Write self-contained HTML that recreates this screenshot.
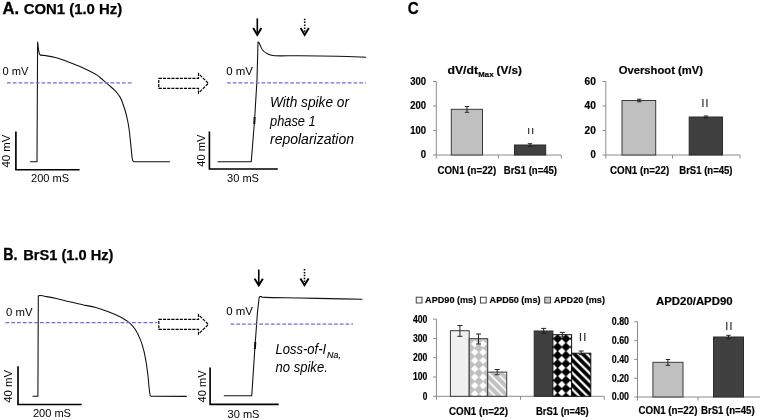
<!DOCTYPE html>
<html><head><meta charset="utf-8"><title>Figure</title>
<style>
html,body{margin:0;padding:0;background:#fff;}
body{width:760px;height:420px;overflow:hidden;}
svg{display:block;font-family:'Liberation Sans', sans-serif;}
</style></head><body>
<svg width="760" height="420" viewBox="0 0 760 420">
<rect width="760" height="420" fill="#fff"/>
<text x="2.40" y="13.60" font-size="16.20" font-weight="bold" textLength="16.60" lengthAdjust="spacingAndGlyphs" fill="#000" stroke="#000" stroke-width="0.3">A.</text>
<text x="23.70" y="13.60" font-size="14.20" font-weight="bold" textLength="98.50" lengthAdjust="spacingAndGlyphs" fill="#000" stroke="#000" stroke-width="0.25">CON1 (1.0 Hz)</text>
<path fill="none" stroke="#111" stroke-width="1.08" stroke-linejoin="round" stroke-linecap="round" d="M30.5,161.75 L37,161.75 L37.6,42 L38.6,50 L39.4,53.8 L40.3,55.1 C41.08,55.17 42.50,55.12 45.00,55.50 C47.50,55.88 51.83,56.50 55.30,57.40 C58.77,58.30 61.68,59.38 65.80,60.90 C69.92,62.42 76.13,64.87 80.00,66.50 C83.87,68.13 86.22,69.30 89.00,70.70 C91.78,72.10 94.65,73.60 96.70,74.90 C98.75,76.20 99.82,77.25 101.30,78.50 C102.78,79.75 104.07,81.07 105.60,82.40 C107.13,83.73 109.02,85.20 110.50,86.50 C111.98,87.80 113.33,89.03 114.50,90.20 C115.67,91.37 116.60,92.38 117.50,93.50 C118.40,94.62 119.22,95.77 119.90,96.90 C120.58,98.03 121.10,99.12 121.60,100.30 C122.10,101.48 122.33,102.38 122.90,104.00 C123.47,105.62 124.23,107.33 125.00,110.00 C125.77,112.67 126.80,116.67 127.50,120.00 C128.20,123.33 128.73,126.67 129.20,130.00 C129.67,133.33 129.95,136.67 130.30,140.00 C130.65,143.33 130.98,146.95 131.30,150.00 C131.62,153.05 131.95,156.50 132.20,158.30 C132.45,160.10 132.52,160.23 132.80,160.80 C133.08,161.37 133.72,161.55 133.90,161.70 L169.5,161.75"/>
<line x1="7" y1="82.9" x2="133" y2="82.9" stroke="#756bd6" stroke-width="1.3" stroke-dasharray="3.8 1.95"/>
<text x="2.40" y="74.70" font-size="11.00" textLength="26.00" lengthAdjust="spacingAndGlyphs" fill="#000">0 mV</text>
<path d="M15.9,131.6 V169.7 H79.6" fill="none" stroke="#000" stroke-width="1.65"/>
<text x="0" y="0" transform="translate(9.90,167.60) rotate(-90)" font-size="11.00" textLength="33.00" lengthAdjust="spacingAndGlyphs" fill="#000">40 mV</text>
<text x="31.00" y="182.40" font-size="11.00" textLength="38.00" lengthAdjust="spacingAndGlyphs" fill="#000">200 mS</text>
<path d="M158.8,78.30 H198.5 V73.65 L208.4,83.35 L198.5,93.05 V88.40 H158.8 Z" fill="#fff" stroke="#000" stroke-width="1.2" stroke-dasharray="3.1 1.1"/>
<path fill="none" stroke="#111" stroke-width="1.08" stroke-linejoin="round" stroke-linecap="round" d="M218,161.75 L251.25,161.75 L254.5,121 L257,80 L258,42 C258.22,42.20 258.55,41.87 259.30,43.20 C260.05,44.53 261.13,48.24 262.50,50.00 C263.87,51.76 265.42,52.79 267.50,53.75 C269.58,54.71 269.58,55.42 275.00,55.75 C280.42,56.08 289.58,55.67 300.00,55.75 C310.42,55.83 326.54,56.00 337.50,56.25 C348.46,56.50 361.04,57.08 365.75,57.25"/>
<path d="M254.6,117 L254.3,124" stroke="#111" stroke-width="2" fill="none"/>
<line x1="227" y1="82.9" x2="366" y2="82.9" stroke="#756bd6" stroke-width="1.3" stroke-dasharray="3.8 1.95"/>
<text x="226.25" y="75.00" font-size="11.00" textLength="26.75" lengthAdjust="spacingAndGlyphs" fill="#000">0 mV</text>
<path d="M209.4,131.6 V169 H277.8" fill="none" stroke="#000" stroke-width="1.65"/>
<text x="0" y="0" transform="translate(205.00,166.70) rotate(-90)" font-size="11.00" textLength="32.20" lengthAdjust="spacingAndGlyphs" fill="#000">40 mV</text>
<text x="227.00" y="182.00" font-size="11.00" textLength="32.00" lengthAdjust="spacingAndGlyphs" fill="#000">30 mS</text>
<line x1="257.30" y1="18.40" x2="257.30" y2="34.20" stroke="#000" stroke-width="1.6"/>
<path d="M253.20,28.10 L257.30,34.90 L261.40,28.10" fill="none" stroke="#000" stroke-width="1.95" stroke-linejoin="miter"/>
<line x1="304.70" y1="18.70" x2="304.70" y2="34.20" stroke="#000" stroke-width="1.6" stroke-dasharray="1.5 1.4"/>
<path d="M300.60,28.10 L304.70,34.90 L308.80,28.10" fill="none" stroke="#000" stroke-width="1.95" stroke-linejoin="miter"/>
<text x="270.00" y="107.00" font-size="13.80" font-style="italic" textLength="79.00" lengthAdjust="spacingAndGlyphs" fill="#000">With spike or</text>
<text x="270.00" y="125.75" font-size="13.80" font-style="italic" textLength="45.75" lengthAdjust="spacingAndGlyphs" fill="#000">phase 1</text>
<text x="270.00" y="143.90" font-size="13.80" font-style="italic" textLength="84.00" lengthAdjust="spacingAndGlyphs" fill="#000">repolarization</text>
<text x="3.30" y="259.80" font-size="16.00" font-weight="bold" textLength="14.20" lengthAdjust="spacingAndGlyphs" fill="#000" stroke="#000" stroke-width="0.3">B.</text>
<text x="23.20" y="259.80" font-size="13.80" font-weight="bold" textLength="90.20" lengthAdjust="spacingAndGlyphs" fill="#000" stroke="#000" stroke-width="0.25">BrS1 (1.0 Hz)</text>
<path fill="none" stroke="#111" stroke-width="1.08" stroke-linejoin="round" stroke-linecap="round" d="M32.9,396.2 L37.9,396.2 L38.3,297 C38.35,296.80 38.23,296.05 38.60,295.80 C38.97,295.55 39.52,295.43 40.50,295.50 C41.48,295.57 41.87,295.70 44.50,296.20 C47.13,296.70 52.13,297.57 56.30,298.50 C60.47,299.43 65.12,300.77 69.50,301.80 C73.88,302.83 78.22,303.73 82.60,304.70 C86.98,305.67 91.40,306.38 95.80,307.60 C100.20,308.82 105.05,310.50 109.00,312.00 C112.95,313.50 116.67,315.22 119.50,316.60 C122.33,317.98 124.33,319.27 126.00,320.30 C127.67,321.33 128.00,321.35 129.50,322.80 C131.00,324.25 133.18,326.20 135.00,329.00 C136.82,331.80 138.90,335.87 140.40,339.60 C141.90,343.33 143.05,347.65 144.00,351.40 C144.95,355.15 145.45,358.17 146.10,362.10 C146.75,366.03 147.43,371.07 147.90,375.00 C148.37,378.93 148.58,382.62 148.90,385.70 C149.22,388.78 149.57,391.85 149.80,393.50 C150.03,395.15 150.07,395.13 150.30,395.60 C150.53,396.07 151.05,396.18 151.20,396.30 L186.4,396.4"/>
<line x1="5.5" y1="322.6" x2="157" y2="322.6" stroke="#756bd6" stroke-width="1.3" stroke-dasharray="3.8 1.95"/>
<text x="6.00" y="316.00" font-size="11.00" textLength="26.50" lengthAdjust="spacingAndGlyphs" fill="#000">0 mV</text>
<path d="M18,366.2 V404.5 H81.7" fill="none" stroke="#000" stroke-width="1.65"/>
<text x="0" y="0" transform="translate(12.10,402.80) rotate(-90)" font-size="11.00" textLength="32.90" lengthAdjust="spacingAndGlyphs" fill="#000">40 mV</text>
<text x="32.90" y="417.40" font-size="11.00" textLength="38.10" lengthAdjust="spacingAndGlyphs" fill="#000">200 mS</text>
<path d="M158.8,319.35 H198.5 V314.70 L208.4,324.40 L198.5,334.10 V329.45 H158.8 Z" fill="#fff" stroke="#000" stroke-width="1.2" stroke-dasharray="3.1 1.1"/>
<path fill="none" stroke="#111" stroke-width="1.08" stroke-linejoin="round" stroke-linecap="round" d="M224.25,395.75 L251.75,395.75 L255,346 L257.5,312 L259,298.5 C259.10,298.20 259.18,297.02 259.60,296.70 C260.02,296.38 260.60,296.48 261.50,296.60 C262.40,296.72 258.58,297.17 265.00,297.40 C271.42,297.63 289.17,297.80 300.00,298.00 C310.83,298.20 319.67,298.39 330.00,298.60 C340.33,298.81 356.67,299.14 362.00,299.25"/>
<path d="M255.3,342 L254.9,349" stroke="#111" stroke-width="2" fill="none"/>
<line x1="230.5" y1="324.2" x2="353" y2="324.2" stroke="#756bd6" stroke-width="1.3" stroke-dasharray="3.8 1.95"/>
<text x="226.25" y="315.00" font-size="11.00" textLength="26.75" lengthAdjust="spacingAndGlyphs" fill="#000">0 mV</text>
<path d="M210.1,367.4 V404.3 H278.6" fill="none" stroke="#000" stroke-width="1.65"/>
<text x="0" y="0" transform="translate(205.90,402.40) rotate(-90)" font-size="11.00" textLength="32.00" lengthAdjust="spacingAndGlyphs" fill="#000">40 mV</text>
<text x="227.50" y="418.00" font-size="11.00" textLength="32.00" lengthAdjust="spacingAndGlyphs" fill="#000">30 mS</text>
<line x1="258.75" y1="269.50" x2="258.75" y2="284.75" stroke="#000" stroke-width="1.6"/>
<path d="M254.65,278.65 L258.75,285.45 L262.85,278.65" fill="none" stroke="#000" stroke-width="1.95" stroke-linejoin="miter"/>
<line x1="304.50" y1="269.00" x2="304.50" y2="284.50" stroke="#000" stroke-width="1.6" stroke-dasharray="1.5 1.4"/>
<path d="M300.40,278.40 L304.50,285.20 L308.60,278.40" fill="none" stroke="#000" stroke-width="1.95" stroke-linejoin="miter"/>
<text x="275.50" y="353.80" font-size="13.80" font-style="italic" textLength="50.70" lengthAdjust="spacingAndGlyphs" fill="#000">Loss-of-I</text>
<text x="327.10" y="357.60" font-size="8.80" font-style="italic" textLength="13.80" lengthAdjust="spacingAndGlyphs" fill="#000" stroke="#000" stroke-width="0.15">Na,</text>
<text x="275.50" y="371.80" font-size="13.80" font-style="italic" textLength="52.30" lengthAdjust="spacingAndGlyphs" fill="#000">no spike.</text>
<text x="407.70" y="13.60" font-size="17.00" font-weight="bold" textLength="10.90" lengthAdjust="spacingAndGlyphs" fill="#000" stroke="#000" stroke-width="0.3">C</text>
<path d="M436.30,81.50 V155.00 H561.30" fill="none" stroke="#8c8c8c" stroke-width="1"/>
<line x1="433.00" y1="81.50" x2="436.30" y2="81.50" stroke="#8c8c8c" stroke-width="1"/>
<line x1="433.00" y1="106.00" x2="436.30" y2="106.00" stroke="#8c8c8c" stroke-width="1"/>
<line x1="433.00" y1="130.50" x2="436.30" y2="130.50" stroke="#8c8c8c" stroke-width="1"/>
<line x1="433.00" y1="155.00" x2="436.30" y2="155.00" stroke="#8c8c8c" stroke-width="1"/>
<line x1="436.30" y1="155.00" x2="436.30" y2="158.50" stroke="#8c8c8c" stroke-width="1"/>
<line x1="498.30" y1="155.00" x2="498.30" y2="158.50" stroke="#8c8c8c" stroke-width="1"/>
<line x1="561.30" y1="155.00" x2="561.30" y2="158.50" stroke="#8c8c8c" stroke-width="1"/>
<rect x="451.30" y="109.30" width="31.20" height="45.70" fill="#c0c0c0" stroke="#3a3a3a" stroke-width="1"/>
<path d="M467.00,106.50 V112.30 M464.80,106.50 H469.20 M464.80,112.30 H469.20" fill="none" stroke="#222" stroke-width="1"/>
<rect x="514.50" y="145.00" width="31.20" height="10.00" fill="#404040" stroke="#2a2a2a" stroke-width="1"/>
<path d="M530.00,143.70 V146.50 M527.80,143.70 H532.20 M527.80,146.50 H532.20" fill="none" stroke="#222" stroke-width="1"/>
<text x="528.60 532.50" y="133.60" font-size="9.88" text-anchor="middle" fill="#2a2a2a" stroke="#2a2a2a" stroke-width="0.2">II</text>
<text x="426.00" y="84.80" font-size="10.00" font-weight="bold" textLength="15.80" lengthAdjust="spacingAndGlyphs" text-anchor="end" fill="#000" stroke="#000" stroke-width="0.18">300</text>
<text x="426.00" y="109.30" font-size="10.00" font-weight="bold" textLength="15.80" lengthAdjust="spacingAndGlyphs" text-anchor="end" fill="#000" stroke="#000" stroke-width="0.18">200</text>
<text x="426.00" y="133.80" font-size="10.00" font-weight="bold" textLength="15.80" lengthAdjust="spacingAndGlyphs" text-anchor="end" fill="#000" stroke="#000" stroke-width="0.18">100</text>
<text x="426.00" y="158.30" font-size="10.00" font-weight="bold" textLength="5.30" lengthAdjust="spacingAndGlyphs" text-anchor="end" fill="#000" stroke="#000" stroke-width="0.18">0</text>
<text x="447.50" y="74.10" font-size="11.40" font-weight="bold" textLength="30.50" lengthAdjust="spacingAndGlyphs" fill="#000" stroke="#000" stroke-width="0.18">dV/dt</text>
<text x="478.30" y="76.60" font-size="7.00" font-weight="bold" textLength="15.20" lengthAdjust="spacingAndGlyphs" fill="#000" stroke="#000" stroke-width="0.18">Max</text>
<text x="496.50" y="74.10" font-size="11.40" font-weight="bold" textLength="25.50" lengthAdjust="spacingAndGlyphs" fill="#000" stroke="#000" stroke-width="0.18">(V/s)</text>
<text x="437.50" y="173.75" font-size="10.80" font-weight="bold" textLength="58.75" lengthAdjust="spacingAndGlyphs" fill="#000" stroke="#000" stroke-width="0.18">CON1 (n=22)</text>
<text x="503.75" y="173.75" font-size="10.80" font-weight="bold" textLength="53.25" lengthAdjust="spacingAndGlyphs" fill="#000" stroke="#000" stroke-width="0.18">BrS1 (n=45)</text>
<path d="M605.80,81.50 V155.00 H740.00" fill="none" stroke="#8c8c8c" stroke-width="1"/>
<line x1="602.50" y1="81.50" x2="605.80" y2="81.50" stroke="#8c8c8c" stroke-width="1"/>
<line x1="602.50" y1="106.00" x2="605.80" y2="106.00" stroke="#8c8c8c" stroke-width="1"/>
<line x1="602.50" y1="130.50" x2="605.80" y2="130.50" stroke="#8c8c8c" stroke-width="1"/>
<line x1="602.50" y1="155.00" x2="605.80" y2="155.00" stroke="#8c8c8c" stroke-width="1"/>
<line x1="605.80" y1="155.00" x2="605.80" y2="158.50" stroke="#8c8c8c" stroke-width="1"/>
<line x1="672.50" y1="155.00" x2="672.50" y2="158.50" stroke="#8c8c8c" stroke-width="1"/>
<line x1="740.00" y1="155.00" x2="740.00" y2="158.50" stroke="#8c8c8c" stroke-width="1"/>
<rect x="622.00" y="100.50" width="33.70" height="54.50" fill="#c0c0c0" stroke="#3a3a3a" stroke-width="1"/>
<path d="M639.20,99.20 V101.80 M637.00,99.20 H641.40 M637.00,101.80 H641.40" fill="none" stroke="#222" stroke-width="1"/>
<rect x="689.20" y="117.00" width="33.30" height="38.00" fill="#404040" stroke="#2a2a2a" stroke-width="1"/>
<path d="M706.00,116.00 V118.00 M703.80,116.00 H708.20 M703.80,118.00 H708.20" fill="none" stroke="#222" stroke-width="1"/>
<text x="702.90 707.00" y="106.60" font-size="10.17" text-anchor="middle" fill="#2a2a2a" stroke="#2a2a2a" stroke-width="0.2">II</text>
<text x="595.80" y="84.80" font-size="10.00" font-weight="bold" textLength="11.30" lengthAdjust="spacingAndGlyphs" text-anchor="end" fill="#000" stroke="#000" stroke-width="0.18">60</text>
<text x="595.80" y="109.30" font-size="10.00" font-weight="bold" textLength="11.30" lengthAdjust="spacingAndGlyphs" text-anchor="end" fill="#000" stroke="#000" stroke-width="0.18">40</text>
<text x="595.80" y="133.80" font-size="10.00" font-weight="bold" textLength="11.30" lengthAdjust="spacingAndGlyphs" text-anchor="end" fill="#000" stroke="#000" stroke-width="0.18">20</text>
<text x="595.80" y="158.30" font-size="10.00" font-weight="bold" textLength="5.30" lengthAdjust="spacingAndGlyphs" text-anchor="end" fill="#000" stroke="#000" stroke-width="0.18">0</text>
<text x="618.75" y="73.75" font-size="11.80" font-weight="bold" textLength="84.20" lengthAdjust="spacingAndGlyphs" fill="#000" stroke="#000" stroke-width="0.18">Overshoot (mV)</text>
<text x="610.00" y="173.75" font-size="10.80" font-weight="bold" textLength="59.25" lengthAdjust="spacingAndGlyphs" fill="#000" stroke="#000" stroke-width="0.18">CON1 (n=22)</text>
<text x="679.25" y="173.75" font-size="10.80" font-weight="bold" textLength="53.25" lengthAdjust="spacingAndGlyphs" fill="#000" stroke="#000" stroke-width="0.18">BrS1 (n=45)</text>
<defs><pattern id="dg" width="8.33" height="8.33" patternUnits="userSpaceOnUse" x="458.04" y="335.54"><rect width="8.33" height="8.33" fill="#fff"/><path d="M4.165,-0.45 L8.78,4.165 L4.165,8.78 L-0.45,4.165 Z" fill="#bfbfbf"/></pattern><pattern id="db" width="8.33" height="8.33" patternUnits="userSpaceOnUse" x="553.43" y="334.53"><rect width="8.33" height="8.33" fill="#fff"/><path d="M4.165,-0.45 L8.78,4.165 L4.165,8.78 L-0.45,4.165 Z" fill="#000"/></pattern><pattern id="sg" width="8.33" height="8.33" patternUnits="userSpaceOnUse" x="487.70" y="363.75"><rect width="8.33" height="8.33" fill="#c2c2c2"/><path d="M-3,-3 L11.33,11.33 M-3,5.33 L3,11.33 M5.33,-3 L11.33,3" stroke="#fff" stroke-width="1.63" fill="none"/></pattern><pattern id="sb" width="8.33" height="8.33" patternUnits="userSpaceOnUse" x="571.70" y="347.07"><rect width="8.33" height="8.33" fill="#000"/><path d="M-3,-3 L11.33,11.33 M-3,5.33 L3,11.33 M5.33,-3 L11.33,3" stroke="#fff" stroke-width="2.19" fill="none"/></pattern></defs>
<path d="M436.40,319.20 V396.30 H604.20" fill="none" stroke="#8c8c8c" stroke-width="1"/>
<line x1="433.10" y1="319.20" x2="436.40" y2="319.20" stroke="#8c8c8c" stroke-width="1"/>
<line x1="433.10" y1="338.50" x2="436.40" y2="338.50" stroke="#8c8c8c" stroke-width="1"/>
<line x1="433.10" y1="357.70" x2="436.40" y2="357.70" stroke="#8c8c8c" stroke-width="1"/>
<line x1="433.10" y1="377.00" x2="436.40" y2="377.00" stroke="#8c8c8c" stroke-width="1"/>
<line x1="433.10" y1="396.30" x2="436.40" y2="396.30" stroke="#8c8c8c" stroke-width="1"/>
<line x1="436.40" y1="396.30" x2="436.40" y2="399.80" stroke="#8c8c8c" stroke-width="1"/>
<line x1="520.50" y1="396.30" x2="520.50" y2="399.80" stroke="#8c8c8c" stroke-width="1"/>
<line x1="604.20" y1="396.30" x2="604.20" y2="399.80" stroke="#8c8c8c" stroke-width="1"/>
<rect x="450.40" y="330.70" width="18.80" height="65.60" fill="#f0f0f0" stroke="#3a3a3a" stroke-width="1"/>
<rect x="469.20" y="338.70" width="18.50" height="57.60" fill="url(#dg)" stroke="#3a3a3a" stroke-width="1"/>
<rect x="487.70" y="372.10" width="19.00" height="24.20" fill="url(#sg)" stroke="#3a3a3a" stroke-width="1"/>
<path d="M459.90,325.50 V336.30 M457.40,325.50 H462.40 M457.40,336.30 H462.40" fill="none" stroke="#222" stroke-width="1"/>
<path d="M478.50,334.00 V344.00 M476.00,334.00 H481.00 M476.00,344.00 H481.00" fill="none" stroke="#222" stroke-width="1"/>
<path d="M497.20,369.50 V374.70 M494.70,369.50 H499.70 M494.70,374.70 H499.70" fill="none" stroke="#222" stroke-width="1"/>
<rect x="534.20" y="331.00" width="18.70" height="65.30" fill="#404040" stroke="#2a2a2a" stroke-width="1"/>
<rect x="552.90" y="334.70" width="18.70" height="61.60" fill="url(#db)" stroke="#111" stroke-width="1"/>
<rect x="571.60" y="353.20" width="19.20" height="43.10" fill="url(#sb)" stroke="#111" stroke-width="1"/>
<path d="M543.70,328.40 V333.40 M541.20,328.40 H546.20 M541.20,333.40 H546.20" fill="none" stroke="#222" stroke-width="1"/>
<path d="M562.40,332.40 V337.00 M559.90,332.40 H564.90 M559.90,337.00 H564.90" fill="none" stroke="#222" stroke-width="1"/>
<path d="M581.20,351.00 V354.70 M578.70,351.00 H583.70 M578.70,354.70 H583.70" fill="none" stroke="#222" stroke-width="1"/>
<text x="580.50 584.80" y="340.70" font-size="10.76" text-anchor="middle" fill="#2a2a2a" stroke="#2a2a2a" stroke-width="0.2">II</text>
<text x="427.40" y="322.50" font-size="10.00" font-weight="bold" textLength="14.40" lengthAdjust="spacingAndGlyphs" text-anchor="end" fill="#000" stroke="#000" stroke-width="0.18">400</text>
<text x="427.40" y="341.80" font-size="10.00" font-weight="bold" textLength="14.40" lengthAdjust="spacingAndGlyphs" text-anchor="end" fill="#000" stroke="#000" stroke-width="0.18">300</text>
<text x="427.40" y="361.00" font-size="10.00" font-weight="bold" textLength="14.40" lengthAdjust="spacingAndGlyphs" text-anchor="end" fill="#000" stroke="#000" stroke-width="0.18">200</text>
<text x="427.40" y="380.30" font-size="10.00" font-weight="bold" textLength="14.40" lengthAdjust="spacingAndGlyphs" text-anchor="end" fill="#000" stroke="#000" stroke-width="0.18">100</text>
<text x="427.40" y="399.60" font-size="10.00" font-weight="bold" textLength="4.60" lengthAdjust="spacingAndGlyphs" text-anchor="end" fill="#000" stroke="#000" stroke-width="0.18">0</text>
<text x="449.00" y="414.90" font-size="10.80" font-weight="bold" textLength="59.00" lengthAdjust="spacingAndGlyphs" fill="#000" stroke="#000" stroke-width="0.18">CON1 (n=22)</text>
<text x="536.00" y="414.90" font-size="10.80" font-weight="bold" textLength="52.70" lengthAdjust="spacingAndGlyphs" fill="#000" stroke="#000" stroke-width="0.18">BrS1 (n=45)</text>
<rect x="416.20" y="297.2" width="5.8" height="5.8" fill="#f4f4f4" stroke="#333" stroke-width="0.9"/>
<text x="425.10" y="302.80" font-size="9.40" font-weight="bold" textLength="51.10" lengthAdjust="spacingAndGlyphs" fill="#000" stroke="#000" stroke-width="0.18">APD90 (ms)</text>
<rect x="480.40" y="297.2" width="5.8" height="5.8" fill="#fff" stroke="#333" stroke-width="0.9"/>
<text x="489.60" y="302.80" font-size="9.40" font-weight="bold" textLength="50.90" lengthAdjust="spacingAndGlyphs" fill="#000" stroke="#000" stroke-width="0.18">APD50 (ms)</text>
<rect x="544.80" y="297.2" width="5.8" height="5.8" fill="#c8c8c8" stroke="#333" stroke-width="0.9"/>
<text x="554.00" y="302.80" font-size="9.40" font-weight="bold" textLength="50.90" lengthAdjust="spacingAndGlyphs" fill="#000" stroke="#000" stroke-width="0.18">APD20 (ms)</text>
<path d="M637.50,321.80 V397.00 H760.00" fill="none" stroke="#8c8c8c" stroke-width="1"/>
<line x1="634.20" y1="321.80" x2="637.50" y2="321.80" stroke="#8c8c8c" stroke-width="1"/>
<line x1="634.20" y1="340.60" x2="637.50" y2="340.60" stroke="#8c8c8c" stroke-width="1"/>
<line x1="634.20" y1="359.40" x2="637.50" y2="359.40" stroke="#8c8c8c" stroke-width="1"/>
<line x1="634.20" y1="378.20" x2="637.50" y2="378.20" stroke="#8c8c8c" stroke-width="1"/>
<line x1="634.20" y1="397.00" x2="637.50" y2="397.00" stroke="#8c8c8c" stroke-width="1"/>
<line x1="637.50" y1="397.00" x2="637.50" y2="400.50" stroke="#8c8c8c" stroke-width="1"/>
<line x1="698.00" y1="397.00" x2="698.00" y2="400.50" stroke="#8c8c8c" stroke-width="1"/>
<rect x="652.90" y="362.30" width="30.10" height="34.70" fill="#c0c0c0" stroke="#3a3a3a" stroke-width="1"/>
<path d="M667.90,359.50 V365.30 M665.70,359.50 H670.10 M665.70,365.30 H670.10" fill="none" stroke="#222" stroke-width="1"/>
<rect x="713.50" y="337.00" width="30.00" height="60.00" fill="#404040" stroke="#2a2a2a" stroke-width="1"/>
<path d="M728.50,335.30 V338.70 M726.30,335.30 H730.70 M726.30,338.70 H730.70" fill="none" stroke="#222" stroke-width="1"/>
<text x="726.60 730.90" y="330.00" font-size="10.32" text-anchor="middle" fill="#2a2a2a" stroke="#2a2a2a" stroke-width="0.2">II</text>
<text x="629.00" y="325.10" font-size="10.00" font-weight="bold" textLength="17.20" lengthAdjust="spacingAndGlyphs" text-anchor="end" fill="#000" stroke="#000" stroke-width="0.18">0.80</text>
<text x="629.00" y="343.90" font-size="10.00" font-weight="bold" textLength="17.20" lengthAdjust="spacingAndGlyphs" text-anchor="end" fill="#000" stroke="#000" stroke-width="0.18">0.60</text>
<text x="629.00" y="362.70" font-size="10.00" font-weight="bold" textLength="17.20" lengthAdjust="spacingAndGlyphs" text-anchor="end" fill="#000" stroke="#000" stroke-width="0.18">0.40</text>
<text x="629.00" y="381.50" font-size="10.00" font-weight="bold" textLength="17.20" lengthAdjust="spacingAndGlyphs" text-anchor="end" fill="#000" stroke="#000" stroke-width="0.18">0.20</text>
<text x="629.00" y="400.30" font-size="10.00" font-weight="bold" textLength="17.20" lengthAdjust="spacingAndGlyphs" text-anchor="end" fill="#000" stroke="#000" stroke-width="0.18">0.00</text>
<text x="656.00" y="304.60" font-size="10.40" font-weight="bold" textLength="76.60" lengthAdjust="spacingAndGlyphs" fill="#000" stroke="#000" stroke-width="0.18">APD20/APD90</text>
<text x="638.50" y="414.00" font-size="10.80" font-weight="bold" textLength="58.90" lengthAdjust="spacingAndGlyphs" fill="#000" stroke="#000" stroke-width="0.18">CON1 (n=22)</text>
<text x="701.00" y="414.00" font-size="10.80" font-weight="bold" textLength="53.60" lengthAdjust="spacingAndGlyphs" fill="#000" stroke="#000" stroke-width="0.18">BrS1 (n=45)</text>
</svg>
</body></html>
